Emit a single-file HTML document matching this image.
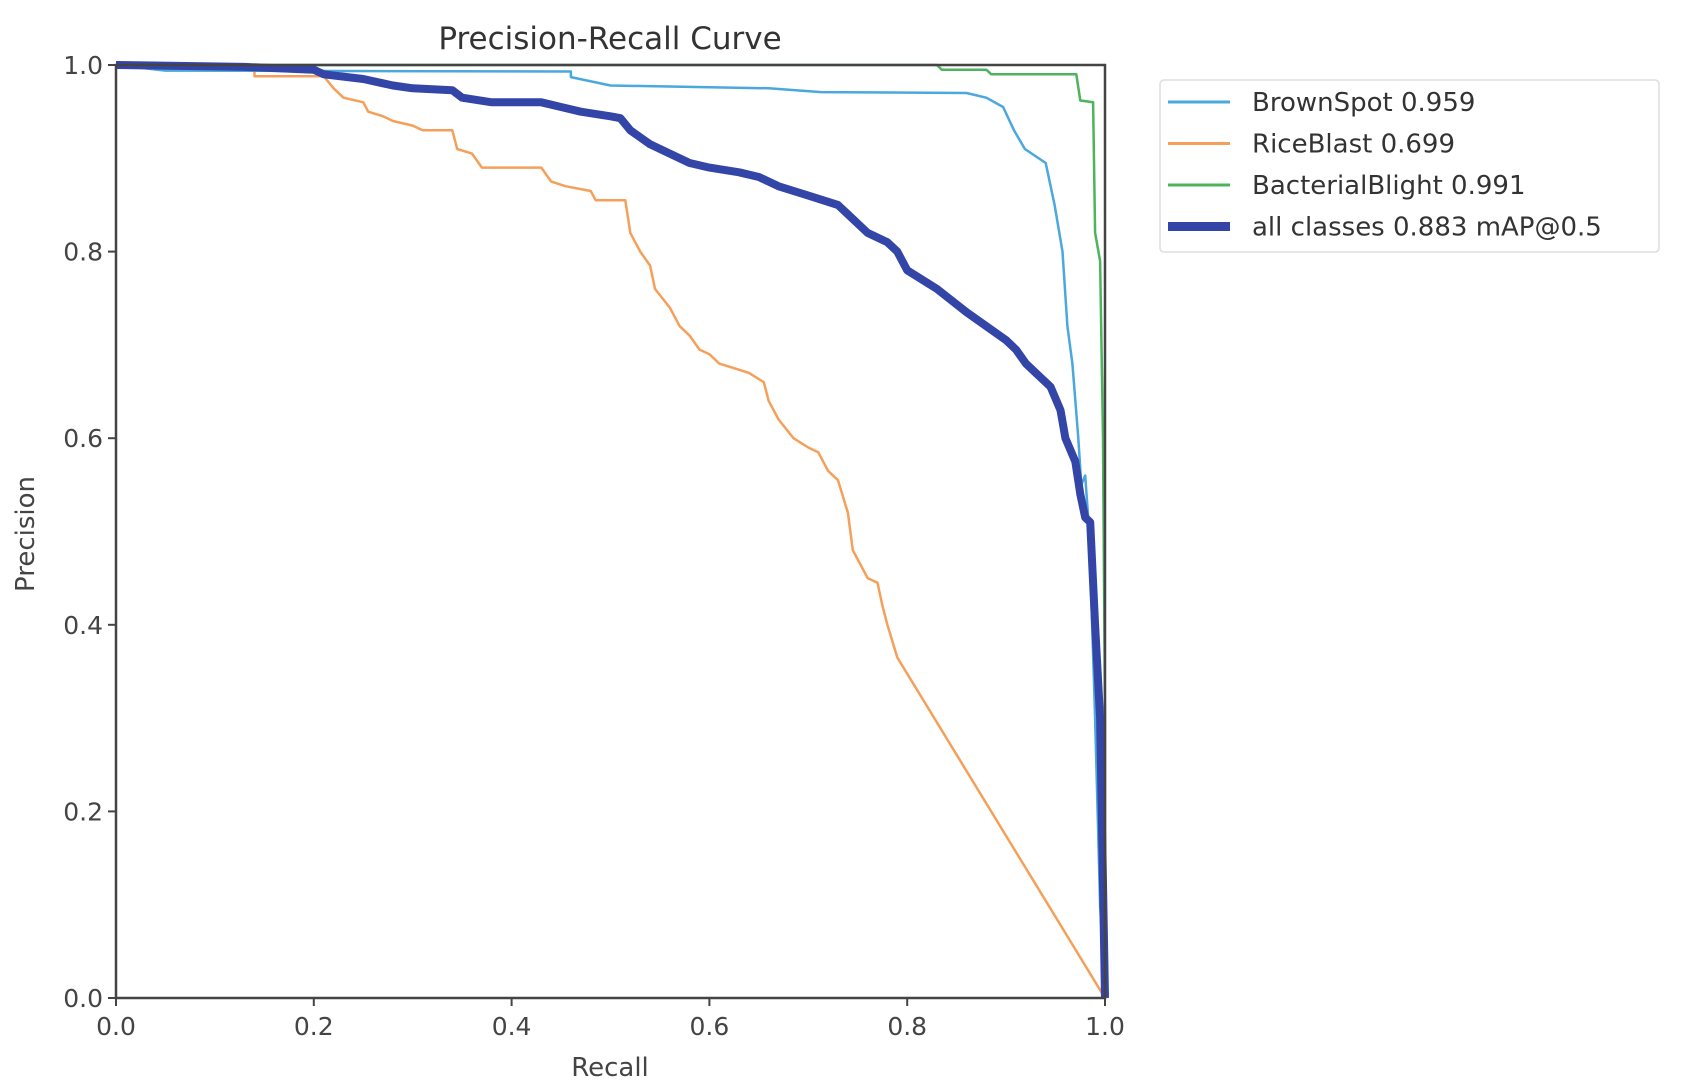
<!DOCTYPE html>
<html><head><meta charset="utf-8"><style>
html,body{margin:0;padding:0;background:#fff;}
svg{display:block;font-family:"DejaVu Sans","Liberation Sans",sans-serif;}
</style></head><body>
<svg id="chart" width="1681" height="1091" viewBox="0 0 1681 1091">
<text x="610" y="49" font-size="31" text-anchor="middle" fill="#333">Precision-Recall Curve</text>
<g id="ticks"></g>
<g id="series"></g>
<rect x="116" y="65" width="989" height="933" fill="none" stroke="#444" stroke-width="2.5"/>
<text x="610" y="1076" font-size="26" text-anchor="middle" fill="#444">Recall</text>
<text x="0" y="0" font-size="26" text-anchor="middle" fill="#444" transform="translate(34,534) rotate(-90)">Precision</text>
<g>
<rect x="1160" y="80" width="499" height="172" rx="4" fill="#fff" stroke="#ddd" stroke-width="1.5"/>
<g id="legend-items"></g>
</g>
</svg>
<script>
const xTicks = [0, 0.2, 0.4, 0.6, 0.8, 1.0];
const yTicks = [0, 0.2, 0.4, 0.6, 0.8, 1.0];
const seriesNames = ["BrownSpot 0.959", "RiceBlast 0.699", "BacterialBlight 0.991", "all classes 0.883 mAP@0.5"];
const brownR = [0,0.05,0.46,0.46,0.5,0.66,0.713,0.86,0.88,0.897,0.908,0.919,0.94,0.949,0.957,0.962,0.967,0.973,0.976,0.98,0.984,0.99,0.995,1.0];
const brownP = [1,0.994,0.993,0.987,0.978,0.975,0.971,0.97,0.965,0.955,0.93,0.91,0.895,0.85,0.8,0.72,0.68,0.6,0.55,0.56,0.5,0.3,0.1,0];
const riceR = [0,0.14,0.14,0.21,0.22,0.23,0.25,0.255,0.27,0.28,0.3,0.31,0.34,0.345,0.36,0.37,0.43,0.44,0.455,0.48,0.485,0.515,0.52,0.53,0.54,0.545,0.56,0.57,0.58,0.59,0.6,0.61,0.625,0.64,0.655,0.66,0.67,0.685,0.7,0.71,0.72,0.73,0.74,0.745,0.75,0.76,0.77,0.775,0.78,0.79,1.0];
const riceP = [1,0.995,0.988,0.988,0.975,0.965,0.96,0.95,0.945,0.94,0.935,0.93,0.93,0.91,0.905,0.89,0.89,0.875,0.87,0.865,0.855,0.855,0.82,0.8,0.785,0.76,0.74,0.72,0.71,0.695,0.69,0.68,0.675,0.67,0.66,0.64,0.62,0.6,0.59,0.585,0.565,0.555,0.52,0.48,0.47,0.45,0.445,0.42,0.4,0.365,0.0];
const blightR = [0,0.83,0.835,0.88,0.885,0.971,0.975,0.988,0.99,0.995,0.998,1.0,1.0];
const blightP = [1,1,0.995,0.995,0.99,0.99,0.962,0.96,0.82,0.79,0.6,0.3,0];
const allR = [0,0.13,0.2,0.21,0.25,0.28,0.3,0.34,0.35,0.38,0.43,0.45,0.47,0.5,0.51,0.52,0.54,0.56,0.58,0.6,0.63,0.65,0.67,0.7,0.73,0.74,0.76,0.78,0.79,0.8,0.83,0.86,0.88,0.9,0.91,0.92,0.93,0.945,0.955,0.96,0.97,0.975,0.98,0.985,0.99,0.995,1.0];
const allP = [1,0.998,0.995,0.99,0.985,0.978,0.975,0.973,0.965,0.96,0.96,0.955,0.95,0.945,0.943,0.93,0.915,0.905,0.895,0.89,0.885,0.88,0.87,0.86,0.85,0.84,0.82,0.81,0.8,0.78,0.76,0.735,0.72,0.705,0.695,0.68,0.67,0.655,0.63,0.6,0.575,0.54,0.515,0.51,0.4,0.3,0.0];

const NS = "http://www.w3.org/2000/svg";
const X0 = 116, X1 = 1105, Y0 = 998, Y1 = 65;
function xs(v){ return X0 + v * (X1 - X0); }
function ys(v){ return Y0 - v * (Y0 - Y1); }
function mk(tag, attrs){ const e = document.createElementNS(NS, tag); for (const k in attrs) e.setAttribute(k, attrs[k]); return e; }

const tg = document.getElementById('ticks');
xTicks.forEach(t => {
  const l = mk('line', {x1: xs(t), x2: xs(t), y1: Y0, y2: Y0 + 8, stroke: '#444', 'stroke-width': 2});
  
  
  tg.appendChild(l);
  const tx = mk('text', {x: xs(t), y: Y0 + 37, 'font-size': 25, 'text-anchor': 'middle', fill: '#444'});
  tx.textContent = t.toFixed(1);
  
  
  tg.appendChild(tx);
});
yTicks.forEach(t => {
  const l = mk('line', {x1: X0 - 8, x2: X0, y1: ys(t), y2: ys(t), stroke: '#444', 'stroke-width': 2});
  
  
  tg.appendChild(l);
  const tx = mk('text', {x: X0 - 13, y: ys(t) + 9, 'font-size': 25, 'text-anchor': 'end', fill: '#444'});
  tx.textContent = t.toFixed(1);
  
  
  tg.appendChild(tx);
});

const sg = document.getElementById('series');
const defs = [
  {r: riceR, p: riceP, c: '#f5a05a', w: 2.5, n: 'riceblast-line'},
  {r: brownR, p: brownP, c: '#4aa8dc', w: 2.5, n: 'brownspot-line'},
  {r: blightR, p: blightP, c: '#4cb45c', w: 2.5, n: 'bacterialblight-line'},
  {r: allR, p: allP, c: '#3445a8', w: 8, n: 'all-classes-line'}
];
defs.forEach(d => {
  const pts = d.r.map((r, i) => xs(r).toFixed(1) + ',' + ys(d.p[i]).toFixed(1)).join(' ');
  const pl = mk('polyline', {points: pts, fill: 'none', stroke: d.c, 'stroke-width': d.w, 'stroke-linejoin': 'round'});
  
  
  sg.appendChild(pl);
});

const lg = document.getElementById('legend-items');
const lcolors = ['#4aa8dc', '#f5a05a', '#4cb45c', '#3445a8'];
const lwidths = [3, 3, 3, 9];
seriesNames.forEach((nm, i) => {
  const y = 102 + i * 41.5;
  const l = mk('line', {x1: 1168, x2: 1230, y1: y, y2: y, stroke: lcolors[i], 'stroke-width': lwidths[i]});
  
  
  lg.appendChild(l);
  const t = mk('text', {x: 1252, y: y + 9, 'font-size': 26, fill: '#333'});
  t.textContent = nm;
  
  
  lg.appendChild(t);
});
</script>
</body></html>
